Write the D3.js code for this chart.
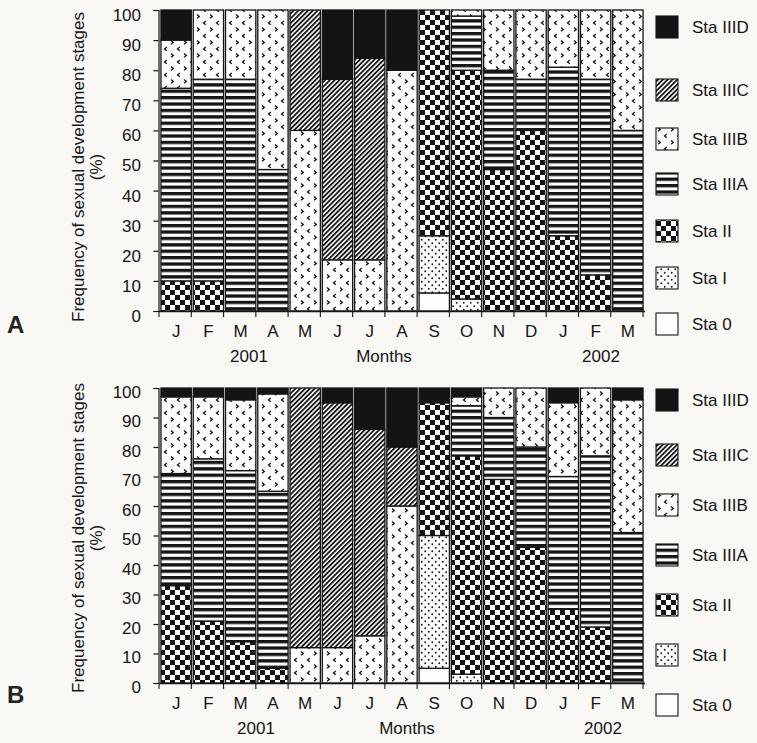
<!DOCTYPE html>
<html>
<head>
<meta charset="utf-8">
<script src="https://cdn.jsdelivr.net/npm/d3@7"></script>
<style>
  html, body { margin: 0; padding: 0; background: #f9f8f4; }
  svg { display: block; font-family: 'Liberation Sans', Arial, sans-serif; }
</style>
</head>
<body>
<svg id="chart" width="757" height="743"></svg>
<script>
const months = ['J', 'F', 'M', 'A', 'M', 'J', 'J', 'A', 'S', 'O', 'N', 'D', 'J', 'F', 'M'];
const stages = ['Sta 0', 'Sta I', 'Sta II', 'Sta IIIA', 'Sta IIIB', 'Sta IIIC', 'Sta IIID'];
const yTicks = [0, 10, 20, 30, 40, 50, 60, 70, 80, 90, 100];

// panel A
const a_sta0  = [0, 0, 0, 0, 0, 0, 0, 0, 6, 0, 0, 0, 0, 0, 0];
const a_staI  = [0, 0, 0, 0, 0, 0, 0, 0, 19, 4, 0, 0, 0, 0, 0];
const a_staII = [10, 10, 0, 0, 0, 0, 0, 0, 75, 76, 47, 60, 25, 12, 0];
const a_IIIA  = [64, 67, 77, 47, 0, 0, 0, 0, 0, 18, 33, 17, 56, 65, 60];
const a_IIIB  = [16, 23, 23, 53, 60, 17, 17, 80, 0, 2, 20, 23, 19, 23, 40];
const a_IIIC  = [0, 0, 0, 0, 40, 60, 67, 0, 0, 0, 0, 0, 0, 0, 0];
const a_IIID  = [10, 0, 0, 0, 0, 23, 16, 20, 0, 0, 0, 0, 0, 0, 0];

// panel B
const b_sta0  = [0, 0, 0, 0, 0, 0, 0, 0, 5, 0, 0, 0, 0, 0, 0];
const b_staI  = [0, 0, 0, 0, 0, 0, 0, 0, 45, 3, 0, 0, 0, 0, 0];
const b_staII = [33, 21, 14, 5, 0, 0, 0, 0, 45, 74, 69, 46, 25, 19, 0];
const b_IIIA  = [38, 55, 58, 60, 0, 0, 0, 0, 0, 17, 21, 34, 45, 58, 51];
const b_IIIB  = [26, 21, 24, 33, 12, 12, 16, 60, 0, 3, 10, 20, 25, 23, 45];
const b_IIIC  = [0, 0, 0, 0, 88, 83, 70, 20, 0, 0, 0, 0, 0, 0, 0];
const b_IIID  = [3, 3, 4, 2, 0, 5, 14, 20, 5, 3, 0, 0, 5, 0, 4];

const INK = '#141414';
const PAPER = '#fdfdfb';

const svg = d3.select('#chart');
const defs = svg.append('defs');

// fill patterns, one per stage
const pat = (id, w, h, extra) => {
  const p = defs.append('pattern')
    .attr('id', id)
    .attr('patternUnits', 'userSpaceOnUse')
    .attr('width', w)
    .attr('height', h);
  if (extra) p.attr('patternTransform', extra);
  p.append('rect').attr('width', w).attr('height', h).attr('fill', PAPER);
  return p;
}

pat('p0', 8, 8);

const pI = pat('pI', 7, 7);
pI.append('circle').attr('cx', 1.75).attr('cy', 1.75).attr('r', 0.9).attr('fill', INK);
pI.append('circle').attr('cx', 5.25).attr('cy', 5.25).attr('r', 0.9).attr('fill', INK);

const pII = pat('pII', 10, 10);
pII.append('rect').attr('width', 5).attr('height', 5).attr('fill', INK);
pII.append('rect').attr('x', 5).attr('y', 5).attr('width', 5).attr('height', 5).attr('fill', INK);

const pA = pat('pIIIA', 8, 6.4);
pA.append('rect').attr('y', 0).attr('width', 8).attr('height', 3.3).attr('fill', INK);

// chevrons: ">" and "<" staggered
const pB = pat('pIIIB', 13, 13);
pB.append('path').attr('d', 'M2,1.5 L4.3,3.4 L2,5.3').attr('fill', 'none').attr('stroke', INK).attr('stroke-width', 1.3);
pB.append('path').attr('d', 'M10.8,8 L8.5,9.9 L10.8,11.8').attr('fill', 'none').attr('stroke', INK).attr('stroke-width', 1.3);

const pC = pat('pIIIC', 3.4, 4, 'rotate(45)');
pC.append('rect').attr('width', 1.8).attr('height', 4).attr('fill', INK);

const fills = {
  'Sta 0': 'url(#p0)',
  'Sta I': 'url(#pI)',
  'Sta II': 'url(#pII)',
  'Sta IIIA': 'url(#pIIIA)',
  'Sta IIIB': 'url(#pIIIB)',
  'Sta IIIC': 'url(#pIIIC)',
  'Sta IIID': INK
};

const x = d3.scaleBand()
  .domain(d3.range(months.length))
  .range([160, 644])
  .paddingInner(0.06)
  .paddingOuter(0.03);

const drawPanel = (cfg) => {
  const table = months.map((m, i) => {
    const row = { i };
    stages.forEach((s, k) => { row[s] = cfg.series[k][i]; });
    return row;
  });
  const stacked = d3.stack().keys(stages)(table);

  const y = d3.scaleLinear().domain([0, 100]).range([cfg.bottom, cfg.top]);
  const g = svg.append('g');

  // bars
  g.selectAll('g.layer')
    .data(stacked)
    .enter()
    .append('g')
    .attr('class', 'layer')
    .selectAll('rect')
    .data(d => d.filter(v => v[1] - v[0] > 0).map(v => ({ v, key: d.key })))
    .enter()
    .append('rect')
    .attr('x', d => x(d.v.data.i))
    .attr('width', x.bandwidth())
    .attr('y', d => y(d.v[1]))
    .attr('height', d => y(d.v[0]) - y(d.v[1]))
    .attr('fill', d => fills[d.key])
    .attr('stroke', INK)
    .attr('stroke-width', 1.3);

  // y axis
  const yAxis = g.append('g')
    .attr('transform', 'translate(158.5,0)')
    .call(d3.axisLeft(y).tickValues(yTicks).tickSize(5).tickPadding(0).tickFormat(''));
  yAxis.selectAll('path, line').attr('stroke', INK).attr('stroke-width', 1.2);

  g.selectAll('text.ytick')
    .data(yTicks)
    .enter()
    .append('text')
    .attr('class', 'ytick')
    .attr('x', 141)
    .attr('y', d => y(d) + cfg.labelShift)
    .attr('dy', '0.35em')
    .attr('text-anchor', 'end')
    .attr('font-size', 17)
    .attr('fill', INK)
    .text(d => d);

  // x axis
  const x0 = x.range()[0] - 1;
  const x1 = x.range()[1] + 1;
  g.append('line')
    .attr('x1', x0).attr('x2', x1)
    .attr('y1', cfg.bottom + 0.5).attr('y2', cfg.bottom + 0.5)
    .attr('stroke', INK).attr('stroke-width', 1.3);

  const edges = d3.range(months.length + 1).map(i => x.range()[0] + i * x.step() - (i === 0 ? 1 : x.step() * x.paddingInner() / 2));
  g.selectAll('line.xtick')
    .data(edges)
    .enter()
    .append('line')
    .attr('class', 'xtick')
    .attr('x1', d => d).attr('x2', d => d)
    .attr('y1', cfg.bottom).attr('y2', cfg.bottom + 6)
    .attr('stroke', INK).attr('stroke-width', 1.1);

  g.selectAll('text.month')
    .data(months)
    .enter()
    .append('text')
    .attr('class', 'month')
    .attr('x', (d, i) => x(i) + x.bandwidth() / 2)
    .attr('y', cfg.bottom + 26)
    .attr('text-anchor', 'middle')
    .attr('font-size', 17)
    .attr('fill', INK)
    .text(d => d);

  cfg.xTitles.forEach(t => {
    g.append('text')
      .attr('x', t.x)
      .attr('y', cfg.bottom + 51)
      .attr('text-anchor', 'middle')
      .attr('font-size', 17)
      .attr('fill', INK)
      .text(t.text);
  });

  // y title
  const ty = g.append('text')
    .attr('transform', `translate(84,${cfg.titleY}) rotate(-90)`)
    .attr('text-anchor', 'middle')
    .attr('font-size', 17)
    .attr('fill', INK);
  ty.append('tspan').attr('x', 0).attr('y', 0).text('Frequency of sexual development stages');
  ty.append('tspan').attr('x', 0).attr('y', 18).text('(%)');

  // panel letter
  g.append('text')
    .attr('x', 7)
    .attr('y', cfg.letterY)
    .attr('font-size', 24)
    .attr('font-weight', 'bold')
    .attr('fill', '#222')
    .text(cfg.letter);

  // legend
  const lg = g.selectAll('g.leg')
    .data(stages)
    .enter()
    .append('g')
    .attr('class', 'leg')
    .attr('transform', (d, k) => `translate(656,${cfg.legendY[k]})`);

  lg.append('rect')
    .attr('x', 0)
    .attr('y', -11)
    .attr('width', 22)
    .attr('height', 22)
    .attr('fill', d => fills[d])
    .attr('stroke', INK)
    .attr('stroke-width', 1.1);

  lg.append('text')
    .attr('x', 36)
    .attr('dy', '0.35em')
    .attr('font-size', 17)
    .attr('fill', INK)
    .text(d => d);
}

drawPanel({
  series: [a_sta0, a_staI, a_staII, a_IIIA, a_IIIB, a_IIIC, a_IIID],
  top: 10, bottom: 311, labelShift: 5,
  titleY: 167, letter: 'A', letterY: 333,
  xTitles: [{ x: 249, text: '2001' }, { x: 384, text: 'Months' }, { x: 601, text: '2002' }],
  legendY: [324, 278, 231, 184, 139, 90, 27]
});

drawPanel({
  series: [b_sta0, b_staI, b_staII, b_IIIA, b_IIIB, b_IIIC, b_IIID],
  top: 388, bottom: 683, labelShift: 4,
  titleY: 538, letter: 'B', letterY: 703,
  xTitles: [{ x: 256, text: '2001' }, { x: 407, text: 'Months' }, { x: 603, text: '2002' }],
  legendY: [705, 655, 605, 555, 505, 455, 400]
});
</script>
</body>
</html>
